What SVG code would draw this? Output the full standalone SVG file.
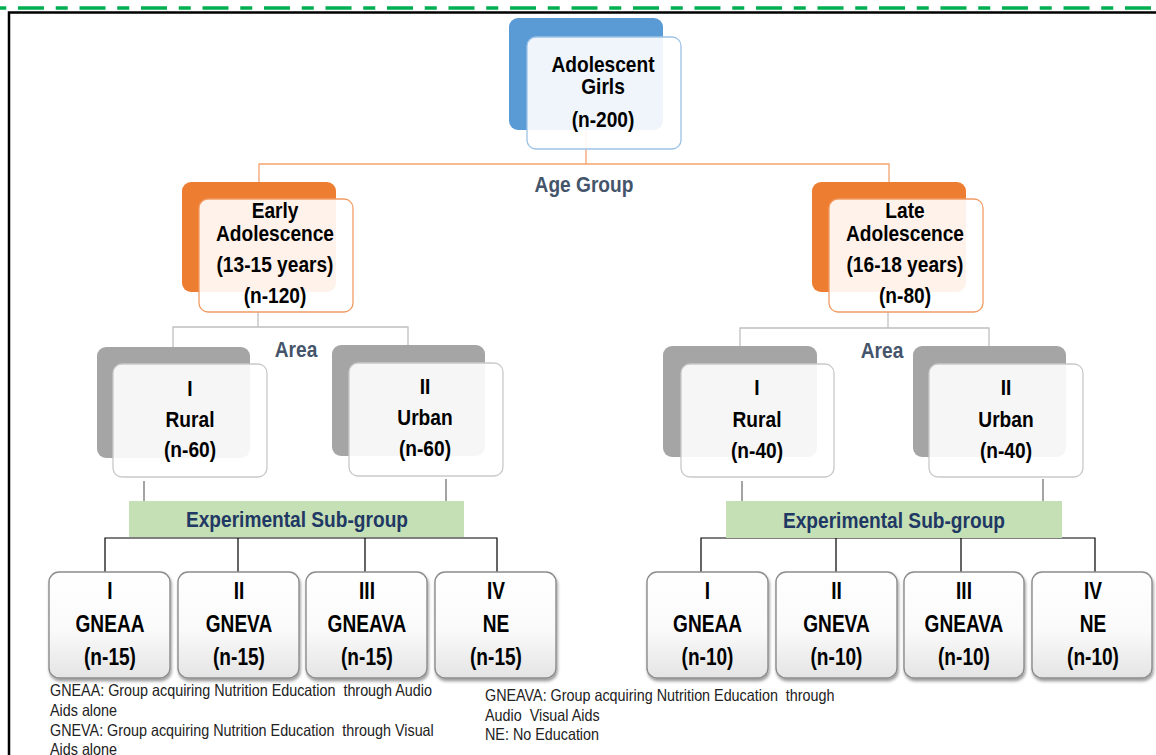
<svg xmlns="http://www.w3.org/2000/svg" width="1156" height="755" viewBox="0 0 1156 755">
  <defs>
    <linearGradient id="boxFill" x1="0" y1="0" x2="0" y2="1">
      <stop offset="0" stop-color="#FFFFFF"/>
      <stop offset="0.55" stop-color="#FAFAFA"/>
      <stop offset="1" stop-color="#E4E4E4"/>
    </linearGradient>
    <filter id="shadow" x="-10%" y="-10%" width="125%" height="130%">
      <feDropShadow dx="1" dy="2.5" stdDeviation="1.4" flood-color="#000" flood-opacity="0.4"/>
    </filter>
  </defs>
  <style>
    text { font-family: "Liberation Sans", Arial, sans-serif; white-space: pre; }
    .t { font-size: 22px; font-weight: bold; fill: #000; text-anchor: middle;
         transform-box: fill-box; transform-origin: center; transform: scaleX(0.87); }
    .tb { font-size: 23px; font-weight: bold; fill: #000; text-anchor: middle;
          transform-box: fill-box; transform-origin: center; transform: scaleX(0.83); }
    .lbl { font-size: 21.5px; font-weight: bold; fill: #44546A; text-anchor: middle;
           transform-box: fill-box; transform-origin: center; transform: scaleX(0.89); }
    .sub { font-size: 21.5px; font-weight: bold; fill: #1F3864; text-anchor: middle;
           transform-box: fill-box; transform-origin: center; transform: scaleX(0.89); }
    .fn { font-size: 16.5px; fill: #222; text-anchor: start;
          transform-box: fill-box; transform-origin: left center; transform: scaleX(0.87); }
    .backBlue { fill: #5B9BD5; }
    .backOrange { fill: #ED7D31; }
    .backGray { fill: #A5A5A5; }
    .front { fill: #FFFFFF; fill-opacity: 0.9; stroke-width: 1.3; }
    .fBlue { stroke: #9DC3E6; }
    .fOrange { stroke: #F19C65; }
    .fGray { stroke: #C9C9C9; }
    .green { fill: #C5E0B4; }
    .leaf { fill: url(#boxFill); stroke: #8C8C8C; stroke-width: 1.4; filter: url(#shadow); }
    .cOrange { fill: none; stroke: #F4A470; stroke-width: 1.3; }
    .cGray { fill: none; stroke: #BFBFBF; stroke-width: 1.3; }
    .cDark { fill: none; stroke: #595959; stroke-width: 1.1; }
    .cBlack { fill: none; stroke: #000; stroke-width: 1.2; }
  </style>

  <!-- page frame -->
  <line x1="0" y1="8" x2="1156" y2="8" stroke="#00B050" stroke-width="3.5" stroke-dasharray="26 11.75 12 11.75" stroke-dashoffset="43.5"/>
  <path d="M9 760 V12.5 H1160" fill="none" stroke="#000" stroke-width="2.5"/>

  <!-- connectors -->
  <g id="connectors">
    <path class="cOrange" d="M586 130 V164 M259 182 V164 H889 V182"/>
    <path class="cGray" d="M258 312 V327 M173 347 V327 H408 V345"/>
    <path class="cGray" d="M888 312 V328 M740 346 V328 H989 V346"/>
    <path class="cDark" d="M144 481 V501 M446 479 V501 M742 481 V501 M1043 479 V501"/>
    <path class="cBlack" d="M105 572 V538 H497 V572 M238 538 V572 M365 538 V572"/>
    <path class="cBlack" d="M701 572 V538 H1095 V572 M836 538 V572 M961 538 V572"/>
  </g>

  <!-- group labels -->
  <text class="lbl" x="584" y="192">Age Group</text>
  <text class="lbl" x="296" y="357">Area</text>
  <text class="lbl" x="882" y="358">Area</text>

  <!-- root -->
  <g id="root">
    <rect class="backBlue" x="509" y="18" width="154" height="112" rx="9"/>
    <rect class="front fBlue" x="527" y="37" width="154" height="112" rx="9"/>
    <text class="t" x="603" y="72">Adolescent</text>
    <text class="t" x="603" y="94">Girls</text>
    <text class="t" x="603" y="127">(n-200)</text>
  </g>

  <!-- age groups -->
  <g id="early">
    <rect class="backOrange" x="182" y="182" width="154" height="110" rx="9"/>
    <rect class="front fOrange" x="199" y="199" width="154" height="113" rx="9"/>
    <text class="t" x="275" y="218">Early</text>
    <text class="t" x="275" y="241">Adolescence</text>
    <text class="t" x="275" y="272">(13-15 years)</text>
    <text class="t" x="275" y="303">(n-120)</text>
  </g>
  <g id="late">
    <rect class="backOrange" x="812" y="182" width="154" height="110" rx="9"/>
    <rect class="front fOrange" x="829" y="199" width="154" height="113" rx="9"/>
    <text class="t" x="905" y="218">Late</text>
    <text class="t" x="905" y="241">Adolescence</text>
    <text class="t" x="905" y="272">(16-18 years)</text>
    <text class="t" x="905" y="303">(n-80)</text>
  </g>

  <!-- areas -->
  <g id="early-rural">
    <rect class="backGray" x="97" y="347" width="153" height="111" rx="9"/>
    <rect class="front fGray" x="113" y="364" width="154" height="113" rx="9"/>
    <text class="t" x="190" y="396">I</text>
    <text class="t" x="190" y="427">Rural</text>
    <text class="t" x="190" y="457">(n-60)</text>
  </g>
  <g id="early-urban">
    <rect class="backGray" x="332" y="345" width="153" height="111" rx="9"/>
    <rect class="front fGray" x="349" y="363" width="154" height="113" rx="9"/>
    <text class="t" x="425" y="394">II</text>
    <text class="t" x="425" y="425">Urban</text>
    <text class="t" x="425" y="456">(n-60)</text>
  </g>
  <g id="late-rural">
    <rect class="backGray" x="663" y="346" width="154" height="111" rx="9"/>
    <rect class="front fGray" x="681" y="364" width="153" height="113" rx="9"/>
    <text class="t" x="757" y="395">I</text>
    <text class="t" x="757" y="427">Rural</text>
    <text class="t" x="757" y="458">(n-40)</text>
  </g>
  <g id="late-urban">
    <rect class="backGray" x="913" y="346" width="153" height="111" rx="9"/>
    <rect class="front fGray" x="929" y="364" width="154" height="113" rx="9"/>
    <text class="t" x="1006" y="395">II</text>
    <text class="t" x="1006" y="427">Urban</text>
    <text class="t" x="1006" y="458">(n-40)</text>
  </g>

  <!-- experimental sub-group bars -->
  <g id="early-sub">
    <rect class="green" x="129" y="501" width="335" height="36"/>
    <text class="sub" x="297" y="527">Experimental Sub-group</text>
  </g>
  <g id="late-sub">
    <rect class="green" x="726" y="501" width="336" height="37"/>
    <text class="sub" x="894" y="528">Experimental Sub-group</text>
  </g>

  <!-- early sub-groups -->
  <g id="e1">
    <rect class="leaf" x="49" y="572" width="121" height="106" rx="10"/>
    <text class="tb" x="110" y="599">I</text>
    <text class="tb" x="110" y="632">GNEAA</text>
    <text class="tb" x="110" y="665">(n-15)</text>
  </g>
  <g id="e2">
    <rect class="leaf" x="178" y="572" width="121" height="106" rx="10"/>
    <text class="tb" x="239" y="599">II</text>
    <text class="tb" x="239" y="632">GNEVA</text>
    <text class="tb" x="239" y="665">(n-15)</text>
  </g>
  <g id="e3">
    <rect class="leaf" x="306" y="572" width="121" height="106" rx="10"/>
    <text class="tb" x="367" y="599">III</text>
    <text class="tb" x="367" y="632">GNEAVA</text>
    <text class="tb" x="367" y="665">(n-15)</text>
  </g>
  <g id="e4">
    <rect class="leaf" x="435" y="572" width="121" height="106" rx="10"/>
    <text class="tb" x="496" y="599">IV</text>
    <text class="tb" x="496" y="632">NE</text>
    <text class="tb" x="496" y="665">(n-15)</text>
  </g>

  <!-- late sub-groups -->
  <g id="l1">
    <rect class="leaf" x="647" y="572" width="121" height="106" rx="10"/>
    <text class="tb" x="707.5" y="599">I</text>
    <text class="tb" x="707.5" y="632">GNEAA</text>
    <text class="tb" x="707.5" y="665">(n-10)</text>
  </g>
  <g id="l2">
    <rect class="leaf" x="776" y="572" width="121" height="106" rx="10"/>
    <text class="tb" x="836.5" y="599">II</text>
    <text class="tb" x="836.5" y="632">GNEVA</text>
    <text class="tb" x="836.5" y="665">(n-10)</text>
  </g>
  <g id="l3">
    <rect class="leaf" x="904" y="572" width="120" height="106" rx="10"/>
    <text class="tb" x="964" y="599">III</text>
    <text class="tb" x="964" y="632">GNEAVA</text>
    <text class="tb" x="964" y="665">(n-10)</text>
  </g>
  <g id="l4">
    <rect class="leaf" x="1032" y="572" width="120" height="106" rx="10"/>
    <text class="tb" x="1093" y="599">IV</text>
    <text class="tb" x="1093" y="632">NE</text>
    <text class="tb" x="1093" y="665">(n-10)</text>
  </g>

  <!-- legend -->
  <g id="legend">
    <text class="fn" x="50" y="696">GNEAA: Group acquiring Nutrition Education  through Audio</text>
    <text class="fn" x="50" y="716">Aids alone</text>
    <text class="fn" x="50" y="736">GNEVA: Group acquiring Nutrition Education  through Visual</text>
    <text class="fn" x="50" y="755">Aids alone</text>
    <text class="fn" x="485" y="701">GNEAVA: Group acquiring Nutrition Education  through</text>
    <text class="fn" x="485" y="721">Audio  Visual Aids</text>
    <text class="fn" x="485" y="740">NE: No Education</text>
  </g>
</svg>
